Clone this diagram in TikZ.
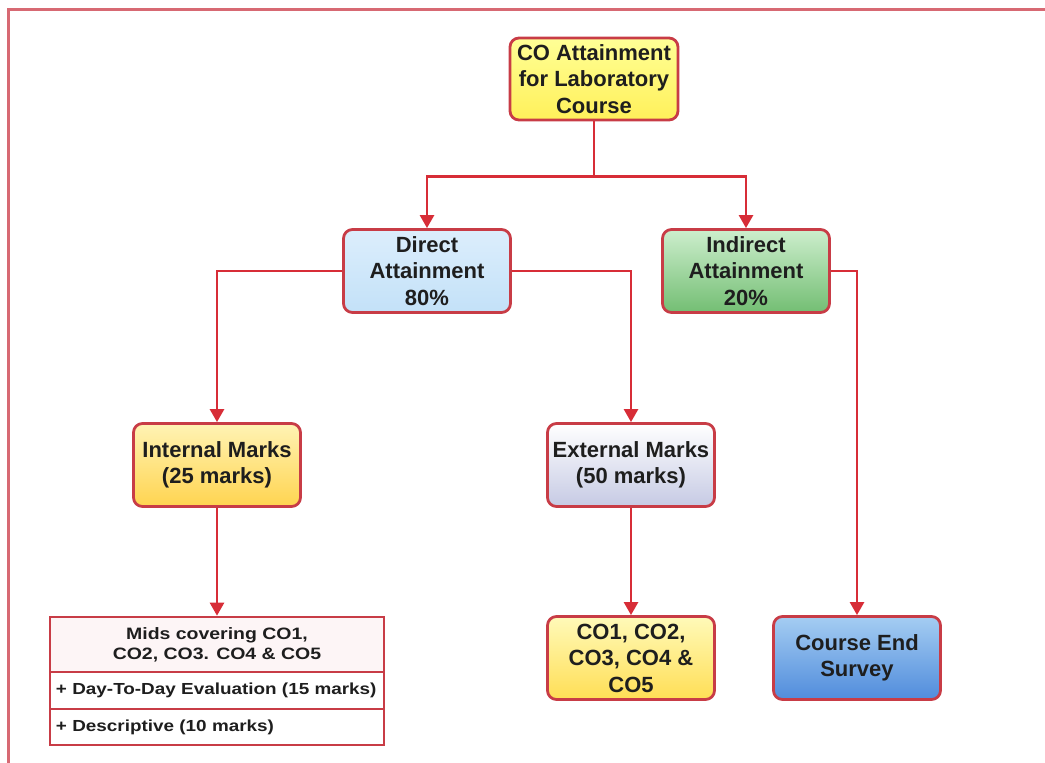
\documentclass[tikz,border=0pt]{standalone}
\usepackage{fontspec}
\setmainfont{Liberation Sans}
\newfontfamily\widefont[FakeStretch=1.18]{Liberation Sans}
\usetikzlibrary{arrows.meta}
\definecolor{boxred}{RGB}{200,60,70}
\definecolor{linered}{RGB}{215,45,55}
\definecolor{framered}{RGB}{215,105,115}
\definecolor{txt}{RGB}{30,30,30}
\begin{document}
\begin{tikzpicture}[x=1pt,y=-1pt,
  box/.style={draw=boxred, line width=2.8pt, rounded corners=9pt,
    minimum width=167pt, minimum height=83pt, inner sep=0pt, align=center,
    text=txt, font=\bfseries\fontsize{22}{26.5}\selectfont},
  cell/.style={draw=boxred, line width=2.6pt, minimum width=334pt, inner sep=0pt,
    text=txt, fill=white},
  arr/.style={draw=linered, line width=2.6pt, -{Triangle[length=13pt,width=14pt]}}]
\useasboundingbox (0,0) rectangle (1045,763);
\coordinate (fa) at (8,763);
\coordinate (fb) at (8,9);
\coordinate (fc) at (1045,9);
\draw[framered, line width=3pt] (fa) -- (fb) -- (fc);

\node[box, minimum width=168pt, minimum height=82pt, top color={rgb,255:red,255;green,255;blue,150}, bottom color={rgb,255:red,255;green,240;blue,90}] (top) at (594,79) {CO Attainment\\for Laboratory\\Course};
\node[box, top color={rgb,255:red,220;green,238;blue,252}, bottom color={rgb,255:red,195;green,225;blue,248}] (direct) at (427,271) {Direct\\Attainment\\80\%};
\node[box, top color={rgb,255:red,205;green,238;blue,205}, bottom color={rgb,255:red,115;green,190;blue,115}] (indirect) at (746,271) {Indirect\\Attainment\\20\%};
\node[box, top color={rgb,255:red,255;green,243;blue,180}, bottom color={rgb,255:red,255;green,212;blue,80}] (internal) at (217,465) {Internal Marks\\(25 marks)};
\node[box, top color=white, bottom color={rgb,255:red,198;green,202;blue,228}] (external) at (631,465) {External Marks\\(50 marks)};
\node[box, top color={rgb,255:red,255;green,250;blue,185}, bottom color={rgb,255:red,255;green,222;blue,85}] (cobox) at (631,658) {CO1, CO2,\\CO3, CO4 \&\\CO5};
\node[box, top color={rgb,255:red,165;green,205;blue,242}, bottom color={rgb,255:red,80;green,140;blue,220}] (survey) at (857,658) {Course End\\Survey};

\node[cell, minimum height=55pt, align=center, fill={rgb,255:red,253;green,245;blue,246},
  font=\widefont\bfseries\fontsize{16.5}{20}\selectfont] (mids1) at (217,644.5) {Mids covering CO1,\\CO2, CO3. CO4 \& CO5};
\node[cell, minimum height=37pt, text width=322pt, align=left,
  font=\widefont\bfseries\fontsize{16}{19}\selectfont] (mids2) at (217,690.5) {+ Day-To-Day Evaluation (15 marks)};
\node[cell, minimum height=36pt, text width=322pt, align=left,
  font=\widefont\bfseries\fontsize{16}{19}\selectfont] (mids3) at (217,727) {+ Descriptive (10 marks)};

\draw[arr] (top.south) -- ++(0,55) -| (direct.north);
\draw[arr] (top.south) -- ++(0,55) -| (indirect.north);
\draw[arr] (direct.west) -| (internal.north);
\draw[arr] (direct.east) -| (external.north);
\draw[arr] (indirect.east) -| (survey.north);
\draw[arr] (internal.south) -- (mids1.north);
\draw[arr] (external.south) -- (cobox.north);
\end{tikzpicture}
\end{document}
